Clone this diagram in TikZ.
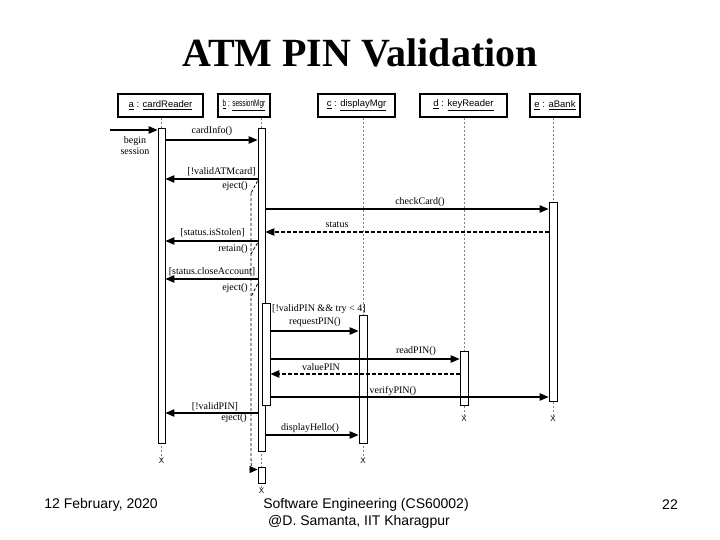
\documentclass[tikz,border=0pt]{standalone}
\usepackage{fontspec}
\setmainfont{Liberation Serif}
\setsansfont{Liberation Sans}
\usetikzlibrary{arrows.meta}
\begin{document}
\begin{tikzpicture}[x=1pt,y=-1pt,
  hdr/.style={draw, line width=1.3pt, minimum height=23pt, inner sep=0pt, font=\sffamily\fontsize{9.5}{10}\selectfont},
  bar/.style={draw, fill=white, line width=0.9pt, inner sep=0pt, minimum width=7pt},
  life/.style={gray, line width=0.8pt, dash pattern=on 2.5pt off 1.5pt},
  msg/.style={line width=1.1pt, -{Triangle[length=9pt,width=7.5pt]}},
  ret/.style={msg, dash pattern=on 4pt off 2pt},
  back/.style={line width=0.8pt, dash pattern=on 3pt off 2pt},
  lbl/.style={font=\fontsize{10}{11}\selectfont, inner sep=0pt},
  xm/.style={font=\sffamily\fontsize{8}{8}\selectfont, inner sep=0pt},
  foot/.style={font=\sffamily\fontsize{14}{16}\selectfont, inner sep=0pt},
]
\useasboundingbox[fill=white] (0,0) rectangle (720,540);

% title
\node[font=\bfseries\fontsize{40}{44}\selectfont, anchor=base, inner sep=0pt] (title) at (360,67) {ATM PIN Validation};

% headers
\node[hdr, minimum width=85pt] (ha) at (160.5,105.5) {\underline{a} : \underline{cardReader}};
\node[hdr, minimum width=52pt] (hb) at (244,105.5) {\scalebox{0.68}[1]{\underline{b} : \underline{sessionMgr}}};
\node[hdr, minimum width=77pt] (hc) at (356.5,105.5) {\underline{c} : \underline{displayMgr}};
\node[hdr, minimum width=87pt] (hd) at (463.5,105.5) {\underline{d} : \underline{keyReader}};
\node[hdr, minimum width=50pt] (he) at (555,105.5) {\underline{e} : \underline{aBank}};

% destruction marks
\node[xm] (xa) at (161.5,461) {X};
\node[xm] (xb) at (261.5,491) {X};
\node[xm] (xc) at (363,461) {X};
\node[xm] (xd) at (464,419) {X};
\node[xm] (xe) at (553,419) {X};

% lifelines
\coordinate (la) at (161.5,0);
\coordinate (lb) at (261.5,0);
\coordinate (lc) at (363,0);
\coordinate (ld) at (464,0);
\coordinate (le) at (553,0);
\draw[life] (la |- ha.south) -- (xa.north);
\draw[life] (lb |- hb.south) -- (xb.north);
\draw[life] (lc |- hc.south) -- (xc.north);
\draw[life] (ld |- hd.south) -- (xd.north);
\draw[life] (le |- he.south) -- (xe.north);

% activation bars
\node[bar, minimum height=315pt] (A) at (161.5,285.5) {};
\node[bar, minimum height=323pt] (B) at (261.5,289.5) {};
\node[bar, minimum width=8pt, minimum height=102pt] (B2) at (266,354) {};
\node[bar, minimum height=16pt] (B3) at (261.5,475) {};
\node[bar, minimum width=8pt, minimum height=128pt] (C) at (363,379) {};
\node[bar, minimum width=8pt, minimum height=54pt] (D) at (464,378) {};
\node[bar, minimum width=8pt, minimum height=199pt] (E) at (553,301.5) {};

% begin session
\coordinate (start) at (110,130);
\draw[msg] (start) -- (A.west |- start);
\node[lbl, align=center] (lbs) at (135,145.5) {begin\\session};

% cardInfo
\draw[msg] (A.east |- 0,140) -- (B.west |- 0,140);
\node[lbl] (l1) at (212,131) {cardInfo()};

% !validATMcard / eject
\draw[msg] (B.west |- 0,179) -- (A.east |- 0,179);
\node[lbl, anchor=east] (l2) at (256,172) {[!validATMcard]};
\node[lbl, anchor=east] (l3) at (248,186) {eject()};

% checkCard / status
\draw[msg] (B.east |- 0,209) -- (E.west |- 0,209);
\node[lbl] (l4) at (420,202) {checkCard()};
\draw[ret] (E.west |- 0,232) -- (B.east |- 0,232);
\node[lbl] (l5) at (337,225) {status};

% isStolen / retain
\draw[msg] (B.west |- 0,241) -- (A.east |- 0,241);
\node[lbl] (l6) at (212.5,233) {[status.isStolen]};
\node[lbl, anchor=east] (l7) at (248,249) {retain()};

% closeAccount / eject
\draw[msg] (B.west |- 0,279) -- (A.east |- 0,279);
\node[lbl] (l8) at (212,272) {[status.closeAccount]};
\node[lbl, anchor=east] (l9) at (248,288) {eject()};

% return dashed lines from b
\coordinate (r1) at (251,193);
\coordinate (r2) at (251,254);
\coordinate (r3) at (251,297);
\draw[back] (B.west |- 0,181) -- (r1);
\draw[back] (B.west |- 0,243) -- (r2);
\draw[back] (B.west |- 0,284) -- (r3);
\draw[back, -{Triangle[length=8pt,width=7pt]}] (r1) -- (251,458) to[out=-90,in=180] ([yshift=-3pt]B3.north west);

% PIN loop
\node[lbl, anchor=west] (l10) at (272,309) {[!validPIN \&\& try < 4]};
\draw[msg] (B2.east |- 0,331) -- (C.west |- 0,331);
\node[lbl] (l11) at (315,322) {requestPIN()};
\draw[msg] (B2.east |- 0,359) -- (D.west |- 0,359);
\node[lbl] (l12) at (416,351) {readPIN()};
\draw[ret] (D.west |- 0,374) -- (B2.east |- 0,374);
\node[lbl] (l13) at (321,367) {valuePIN};
\draw[msg] (B2.east |- 0,397) -- (E.west |- 0,397);
\node[lbl] (l14) at (393,391) {verifyPIN()};

% !validPIN / eject
\draw[msg] (B.west |- 0,413) -- (A.east |- 0,413);
\node[lbl] (l15) at (215,407) {[!validPIN]};
\node[lbl, anchor=east] (l16) at (247,418) {eject()};

% displayHello
\draw[msg] (B.east |- 0,435) -- (C.west |- 0,435);
\node[lbl] (l17) at (310,428) {displayHello()};

% footer
\node[foot] (f1) at (101,505) {12 February, 2020};
\node[foot] (f2) at (366,505) {Software Engineering (CS60002)};
\node[foot] (f3) at (359,522) {@D. Samanta, IIT Kharagpur};
\node[foot] (f4) at (670,505) {22};
\end{tikzpicture}
\end{document}
